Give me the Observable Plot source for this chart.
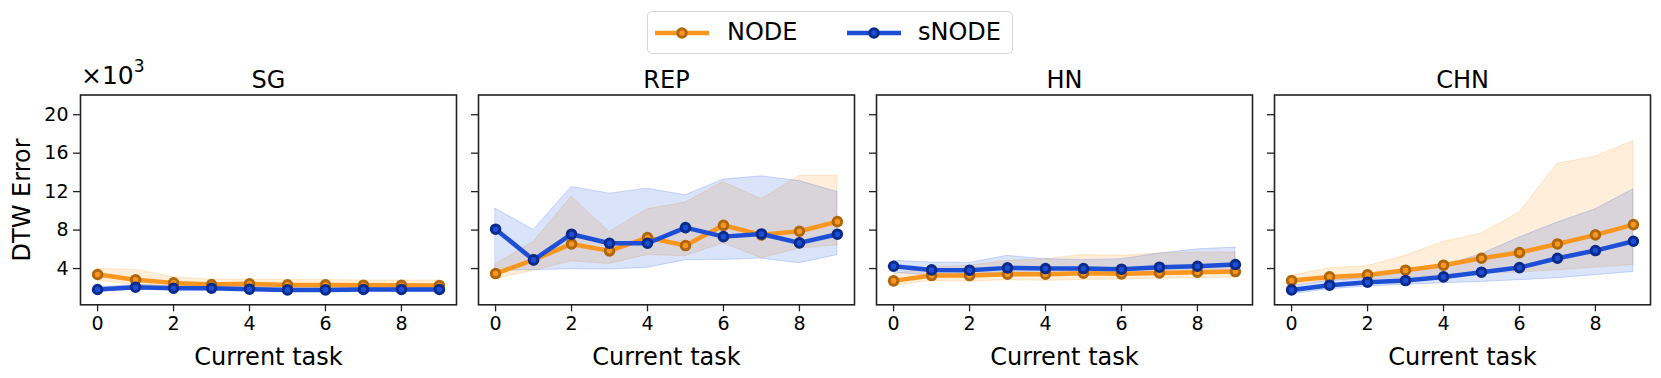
<!DOCTYPE html>
<html><head><meta charset="utf-8">
<script src="https://cdn.jsdelivr.net/npm/d3@7"></script>
<script src="https://cdn.jsdelivr.net/npm/@observablehq/plot@0.6"></script>
<style>
body{margin:0;background:#fff;font-family:"DejaVu Sans",sans-serif;}
#root{position:relative;width:1661px;height:378px;overflow:hidden;background:#fff;}
.panel{position:absolute;top:56px;}
.panel svg{max-width:none;background:transparent;overflow:visible;}
#legend{position:absolute;left:647px;top:11px;width:364px;height:41px;border:1.5px solid #d6d6d6;border-radius:5px;background:#fff;}
#legend .lab{position:absolute;top:6px;font-size:24px;color:#000;}
#offset{position:absolute;left:81px;top:59px;font-size:25px;color:#000;white-space:nowrap;}
#offset sup{font-size:17px;position:relative;top:-3px;}
</style></head>
<body><div id="root"></div>
<script>
// ----- data (values in thousands) -----
const tasks = [0,1,2,3,4,5,6,7,8,9];
const panels = ["SG","REP","HN","CHN"];
const seriesNames = ["NODE","sNODE"];
const yTicks = [4,8,12,16,20];
const xTicks = [0,2,4,6,8];

const nodeMean = [
  [3.38,2.83,2.51,2.34,2.41,2.30,2.30,2.27,2.27,2.24],
  [3.48,4.90,6.56,5.84,7.22,6.39,8.50,7.50,7.88,8.88],
  [2.72,3.27,3.27,3.41,3.41,3.52,3.45,3.55,3.62,3.69],
  [2.75,3.13,3.34,3.83,4.35,5.07,5.66,6.56,7.50,8.57]
];
const nodeLow = [
  [2.75,2.30,2.10,2.00,2.00,2.00,2.00,2.00,2.00,2.00],
  [2.90,3.76,4.76,4.48,5.42,5.28,6.63,5.07,6.08,6.42],
  [2.20,2.72,2.65,2.79,2.72,2.82,2.86,2.96,3.00,3.06],
  [2.37,2.72,2.89,3.06,3.31,3.48,3.58,3.83,4.10,4.38]
];
const nodeHigh = [
  [3.97,3.86,3.10,2.83,2.83,2.80,2.80,2.75,2.75,2.75],
  [4.45,6.77,11.48,7.81,10.16,10.86,13.00,11.20,13.63,13.63],
  [3.41,4.10,4.28,4.80,4.97,5.42,5.32,5.56,5.66,5.66],
  [3.24,4.03,4.24,5.32,6.77,7.64,9.82,14.90,15.64,17.26]
];
const snodeMean = [
  [1.82,2.06,1.95,1.95,1.85,1.78,1.78,1.82,1.82,1.82],
  [8.09,4.90,7.57,6.63,6.63,8.26,7.32,7.60,6.67,7.57],
  [4.24,3.86,3.83,4.07,4.00,4.00,3.93,4.14,4.24,4.42],
  [1.78,2.27,2.58,2.75,3.13,3.62,4.10,5.07,5.87,6.84]
];
const snodeLow = [
  [1.60,1.80,1.75,1.75,1.65,1.55,1.55,1.60,1.60,1.60],
  [3.76,3.83,3.93,3.90,4.07,4.87,4.90,5.04,4.55,5.39],
  [3.58,3.24,3.41,3.58,3.52,3.52,3.41,3.58,3.69,3.76],
  [1.33,1.85,2.13,2.30,2.48,2.61,2.79,3.00,3.31,3.65]
];
const snodeHigh = [
  [2.05,2.30,2.20,2.20,2.10,2.05,2.05,2.05,2.05,2.05],
  [10.23,8.02,12.48,11.79,12.31,11.62,13.25,13.59,13.10,11.97],
  [4.80,4.62,4.59,5.32,4.97,4.90,4.97,5.56,6.00,6.18],
  [2.20,2.72,3.06,3.58,4.28,5.49,7.22,8.78,10.16,12.24]
];

// ----- styling -----
const ORANGE = "#ff8c00", BLUE = "#0343df";
const ORANGE_LINE = "#f9961f", BLUE_LINE = "#1c4ed6";
const ORANGE_EDGE = "#b1660a", BLUE_EDGE = "#0b2b8c";
const frameLefts = [80,478,876,1274];
const frameW = 376;

const root = document.getElementById("root");

panels.forEach((name, i) => {
  const node = tasks.map((t,k) => ({t, m: nodeMean[i][k], lo: nodeLow[i][k], hi: nodeHigh[i][k]}));
  const snode = tasks.map((t,k) => ({t, m: snodeMean[i][k], lo: snodeLow[i][k], hi: snodeHigh[i][k]}));
  const mL = i === 0 ? 80 : 14, mR = 12;
  const marks = [
    Plot.areaY(node, {x:"t", y1:"lo", y2:"hi", fill:ORANGE, fillOpacity:0.15, stroke:ORANGE, strokeOpacity:0.18, strokeWidth:1}),
    Plot.areaY(snode, {x:"t", y1:"lo", y2:"hi", fill:BLUE, fillOpacity:0.15, stroke:BLUE, strokeOpacity:0.18, strokeWidth:1}),
    Plot.line(node, {x:"t", y:"m", stroke:ORANGE_LINE, strokeWidth:4.5}),
    Plot.dot(node, {x:"t", y:"m", r:4.3, fill:ORANGE_LINE, stroke:ORANGE_EDGE, strokeWidth:3}),
    Plot.line(snode, {x:"t", y:"m", stroke:BLUE_LINE, strokeWidth:4.5}),
    Plot.dot(snode, {x:"t", y:"m", r:4.3, fill:BLUE_LINE, stroke:BLUE_EDGE, strokeWidth:3}),
    Plot.frame({stroke:"#222", strokeWidth:1.6}),
    Plot.axisX(xTicks, {tickSize:7, tickPadding:5, fontSize:19, label:null, stroke:"#222", strokeWidth:1.3}),
    Plot.axisY(yTicks, {tickSize:7, tickPadding:5, fontSize:19, label:null, stroke:"#222", strokeWidth:1.3,
      tickFormat: i === 0 ? (d => String(d)) : (() => "")}),
    Plot.text([name], {frameAnchor:"top", lineAnchor:"bottom", dy:-7, fontSize:24, fill:"#000"}),
    Plot.text(["Current task"], {frameAnchor:"bottom", lineAnchor:"middle", dy:53, fontSize:24, fill:"#000"})
  ];
  if (i === 0) marks.push(Plot.text(["DTW Error"], {frameAnchor:"left", textAnchor:"middle", lineAnchor:"middle", dx:-58, rotate:-90, fontSize:24, fill:"#000"}));
  const chart = Plot.plot({
    width: mL + frameW + mR,
    height: 322,
    marginLeft: mL, marginRight: mR, marginTop: 38.5, marginBottom: 73.7,
    x: {domain:[-0.45, 9.45], axis:null},
    y: {domain:[0.23, 22.05], axis:null},
    style: {fontFamily:"DejaVu Sans", fontSize:"19px", color:"#000", background:"transparent"},
    marks
  });
  const wrap = document.createElement("div");
  wrap.className = "panel";
  wrap.style.left = (frameLefts[i] - mL) + "px";
  wrap.appendChild(chart);
  root.appendChild(wrap);
});

// offset text
const off = document.createElement("div");
off.id = "offset";
off.innerHTML = "×10<sup>3</sup>";
root.appendChild(off);

// legend
const leg = document.createElement("div");
leg.id = "legend";
const swatch = (x, line, fill, edge) =>
  `<svg style="position:absolute;left:${x}px;top:9px" width="58" height="24">
     <line x1="2" x2="56" y1="12" y2="12" stroke="${line}" stroke-width="4.5"/>
     <circle cx="29" cy="12" r="4.3" fill="${fill}" stroke="${edge}" stroke-width="3"/></svg>`;
leg.innerHTML =
  swatch(5, ORANGE_LINE, ORANGE_LINE, ORANGE_EDGE) + `<span class="lab" style="left:79px">${seriesNames[0]}</span>` +
  swatch(197, BLUE_LINE, BLUE_LINE, BLUE_EDGE) + `<span class="lab" style="left:270px">${seriesNames[1]}</span>`;
root.appendChild(leg);
</script>
</body></html>
